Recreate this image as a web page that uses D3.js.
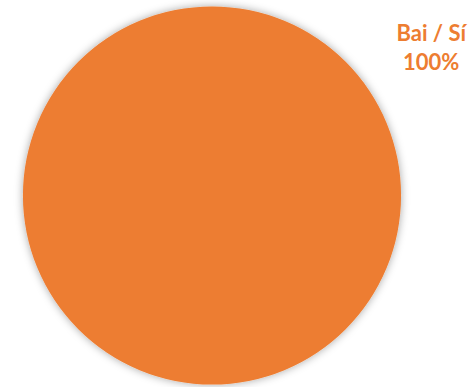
<!DOCTYPE html>
<html>
<head>
<meta charset="utf-8">
<script src="https://cdn.jsdelivr.net/npm/d3@7"></script>
<style>
  html, body { margin: 0; padding: 0; background: #fff; }
</style>
</head>
<body>
<div id="chart"></div>
<script>
// datos del gráfico
const categories = ["Bai / Sí"];
const values = [100];
const colors = ["#ED7D31"];

const width = 470, height = 387;
const cx = 212, cy = 195.5, radius = 189;

const svg = d3.select("#chart")
  .append("svg")
    .attr("width", width)
    .attr("height", height);

// sombra suave alrededor de la tarta
const defs = svg.append("defs");
const filter = defs.append("filter")
    .attr("id", "shadow")
    .attr("x", "-20%").attr("y", "-20%")
    .attr("width", "140%").attr("height", "140%");
filter.append("feDropShadow")
    .attr("dx", 0).attr("dy", 0)
    .attr("stdDeviation", 4)
    .attr("flood-color", "#000")
    .attr("flood-opacity", 0.35);

const data = categories.map((c, i) => ({ name: c, value: values[i] }));

const pie = d3.pie().value(d => d.value).sort(null);
const arc = d3.arc().innerRadius(0).outerRadius(radius);

const g = svg.append("g")
    .attr("transform", `translate(${cx}, ${cy})`);

g.selectAll("path.slice")
  .data(pie(data))
  .enter()
  .append("path")
    .attr("class", "slice")
    .attr("d", arc)
    .attr("fill", (d, i) => colors[i])
    .attr("filter", "url(#shadow)");

// etiqueta de datos (arriba a la derecha, como en Excel)
const total = d3.sum(values);
const label = svg.append("text")
    .attr("x", cx + radius * 1.16)
    .attr("text-anchor", "middle")
    .attr("font-family", "Lato, 'Liberation Sans', sans-serif")
    .attr("font-weight", "bold")
    .attr("font-size", 22)
    .attr("fill", colors[0]);

label.append("tspan")
    .attr("x", cx + radius * 1.16)
    .attr("y", 41)
    .text(categories[0]);
label.append("tspan")
    .attr("x", cx + radius * 1.16)
    .attr("y", 70)
    .text(Math.round(values[0] / total * 100) + "%");
</script>
</body>
</html>
